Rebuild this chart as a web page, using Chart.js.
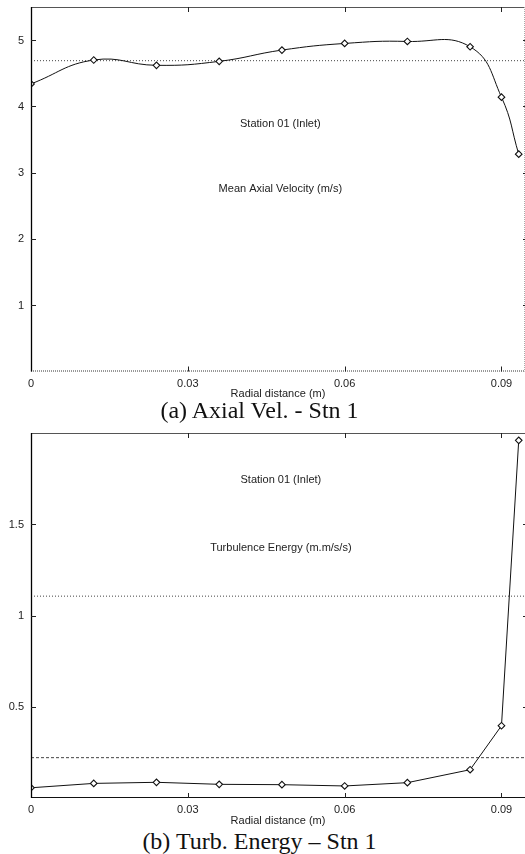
<!DOCTYPE html>
<html>
<head>
<meta charset="utf-8">
<script src="https://cdn.jsdelivr.net/npm/chart.js@4.4.1/dist/chart.umd.min.js"></script>
<style>
  html, body { margin:0; padding:0; background:#fff; width:525px; height:854px; overflow:hidden; }
  canvas { position:absolute; left:0; }
  #c1 { top:0; }
  #c2 { top:425px; }
  .cap { position:absolute; left:0; width:519px; text-align:center; font-family:"Liberation Serif","Times New Roman",serif; font-size:24px; line-height:26px; color:#111; white-space:nowrap; }
</style>
</head>
<body>
<canvas id="c1" width="525" height="400"></canvas>
<canvas id="c2" width="525" height="402"></canvas>
<div class="cap" style="top:397px">(a) Axial Vel. - Stn 1</div>
<div class="cap" style="top:828px">(b) Turb. Energy – Stn 1</div>
<script>
// ---------------- data ----------------
const radialPositions   = [0, 0.012, 0.024, 0.036, 0.048, 0.06, 0.072, 0.084, 0.09, 0.0933];
const axialVelocity     = [4.34, 4.70, 4.62, 4.68, 4.85, 4.95, 4.98, 4.90, 4.14, 3.28];
const axialVelocityRef  = [4.69];
const turbulenceEnergy  = [0.056, 0.080, 0.086, 0.075, 0.073, 0.066, 0.084, 0.155, 0.396, 1.96];
const turbulenceRefDotted = [1.106];
const turbulenceRefDashed = [0.221];
const xTicks       = [0, 0.03, 0.06, 0.09];
const xTickLabels  = ['0', '0.03', '0.06', '0.09'];
const velTicks      = [1, 2, 3, 4, 5];
const velTickLabels = ['1', '2', '3', '4', '5'];
const energyTicks      = [0.5, 1, 1.5];
const energyTickLabels = ['0.5', '1', '1.5'];
const xRange   = [0, 0.0945];
const velRange = [0, 5.5];
const energyRange = [0, 2.0];
const xTitle = 'Radial distance (m)';
const velNotes    = ['Station 01 (Inlet)', 'Mean Axial Velocity (m/s)'];
const energyNotes = ['Station 01 (Inlet)', 'Turbulence Energy (m.m/s/s)'];

// ---------------- helpers ----------------
const FONT = "'Liberation Sans', Arial, Helvetica, sans-serif";
const TXT = '#222';

const framePlugin = {
  id: 'frame',
  afterDraw(chart, args, o) {
    const {ctx, chartArea: a, scales: {x, y}} = chart;
    ctx.save();
    const L = a.left + 0.5, R = a.right - 0.5, T = a.top + 0.5, B = a.bottom - 0.5;
    ctx.setLineDash([]);
    ctx.lineWidth = 1;
    ctx.strokeStyle = '#555';
    ctx.beginPath(); ctx.moveTo(a.left, T); ctx.lineTo(a.right, T); ctx.stroke();
    ctx.strokeStyle = o.bottomDotted ? '#333' : '#111';
    ctx.setLineDash(o.bottomDotted ? [1, 1] : []);
    ctx.beginPath(); ctx.moveTo(a.left, B); ctx.lineTo(a.right, B); ctx.stroke();
    if (o.rightBorder) {
      ctx.strokeStyle = '#aaa';
      ctx.setLineDash([1, 1]);
      ctx.beginPath(); ctx.moveTo(R, a.top); ctx.lineTo(R, a.bottom); ctx.stroke();
    }
    ctx.setLineDash([]);
    ctx.strokeStyle = '#000';
    ctx.lineWidth = 1.3;
    ctx.beginPath(); ctx.moveTo(L, a.top); ctx.lineTo(L, a.bottom); ctx.stroke();
    ctx.lineWidth = 1;
    ctx.strokeStyle = '#222';
    x.ticks.forEach(t => {
      if (t.value === x.min) return;
      const px = Math.round(x.getPixelForValue(t.value)) + 0.5;
      ctx.beginPath();
      ctx.moveTo(px, a.bottom); ctx.lineTo(px, a.bottom - 5);
      ctx.moveTo(px, a.top); ctx.lineTo(px, a.top + 5);
      ctx.stroke();
    });
    y.ticks.forEach(t => {
      const py = Math.round(y.getPixelForValue(t.value)) + 0.5;
      ctx.beginPath();
      ctx.moveTo(a.left, py); ctx.lineTo(a.left + 5, py);
      ctx.moveTo(a.right, py); ctx.lineTo(a.right - 2, py);
      ctx.stroke();
    });
    // tick labels and axis title
    ctx.fillStyle = TXT;
    ctx.font = '11px ' + FONT;
    ctx.textBaseline = 'middle';
    ctx.textAlign = 'center';
    o.xTicks.forEach((v, i) => {
      ctx.fillText(o.xTickLabels[i], x.getPixelForValue(v), a.bottom + o.labelOffset);
    });
    ctx.fillText(o.xTitle, (a.left + a.right) / 2, a.bottom + o.titleOffset);
    ctx.textAlign = 'right';
    o.yTicks.forEach((v, i) => {
      ctx.fillText(o.yTickLabels[i], a.left - 7, y.getPixelForValue(v) + 0.5);
    });
    // notes
    ctx.textAlign = 'center';
    (o.notes || []).forEach(n => {
      ctx.fillText(n.text, x.getPixelForValue(n.x), y.getPixelForValue(n.y));
    });
    ctx.restore();
  }
};

function makeChart(id, cfg) {
  const xs = radialPositions;
  const refSets = cfg.refs.map(r => ({
    data: [{x: xRange[0], y: r.value}, {x: xRange[1], y: r.value}],
    borderColor: '#444', borderWidth: 1, borderDash: r.dash,
    pointRadius: 0, tension: 0, order: 2
  }));
  return new Chart(document.getElementById(id), {
    type: 'line',
    data: {
      datasets: [
        ...refSets,
        {
          data: cfg.values.map((v, i) => ({x: xs[i], y: v})),
          borderColor: '#111', borderWidth: 1,
          tension: cfg.tension, cubicInterpolationMode: 'default',
          pointStyle: 'rectRot', pointRadius: 3.3,
          pointBackgroundColor: '#fff', pointBorderColor: '#111', pointBorderWidth: 1.1,
          order: 1
        }
      ]
    },
    options: {
      responsive: false, animation: false, events: [],
      layout: { autoPadding: false, padding: { top: cfg.padTop, left: 0, right: 0, bottom: 0 } },
      plugins: {
        legend: { display: false }, tooltip: { enabled: false },
        frame: {
          bottomDotted: cfg.bottomDotted, rightBorder: cfg.rightBorder, notes: cfg.notes,
          xTicks: xTicks, xTickLabels: xTickLabels, xTitle: xTitle,
          yTicks: cfg.yTicks, yTickLabels: cfg.yTickLabels,
          labelOffset: cfg.labelOffset, titleOffset: cfg.titleOffset
        }
      },
      scales: {
        x: {
          type: 'linear', min: xRange[0], max: xRange[1],
          grid: { display: false, drawTicks: false }, border: { display: false },
          afterBuildTicks: s => { s.ticks = xTicks.map(v => ({value: v})); },
          afterFit: s => { s.height = cfg.xHeight; },
          ticks: { display: false },
          title: { display: false }
        },
        y: {
          type: 'linear', min: cfg.yRange[0], max: cfg.yRange[1],
          grid: { display: false, drawTicks: false }, border: { display: false },
          afterBuildTicks: s => { s.ticks = cfg.yTicks.map(v => ({value: v})); },
          afterFit: s => { s.width = 31; },
          ticks: { display: false }
        }
      }
    },
    plugins: [framePlugin]
  });
}

makeChart('c1', {
  values: axialVelocity, tension: 0.45,
  refs: [{ value: axialVelocityRef[0], dash: [1, 2] }],
  yRange: velRange, yTicks: velTicks, yTickLabels: velTickLabels,
  padTop: 7, xHeight: 28.5, bottomDotted: true, rightBorder: true,
  labelOffset: 12, titleOffset: 22,
  notes: [{ x: 0.0477, y: 3.73, text: velNotes[0] }, { x: 0.0477, y: 2.75, text: velNotes[1] }]
});

makeChart('c2', {
  values: turbulenceEnergy, tension: 0,
  refs: [{ value: turbulenceRefDotted[0], dash: [1, 2] }, { value: turbulenceRefDashed[0], dash: [3, 2] }],
  yRange: energyRange, yTicks: energyTicks, yTickLabels: energyTickLabels,
  padTop: 8, xHeight: 29, bottomDotted: false, rightBorder: false,
  labelOffset: 12, titleOffset: 22.5,
  notes: [{ x: 0.0478, y: 1.743, text: energyNotes[0] }, { x: 0.0478, y: 1.371, text: energyNotes[1] }]
});
</script>
</body>
</html>
